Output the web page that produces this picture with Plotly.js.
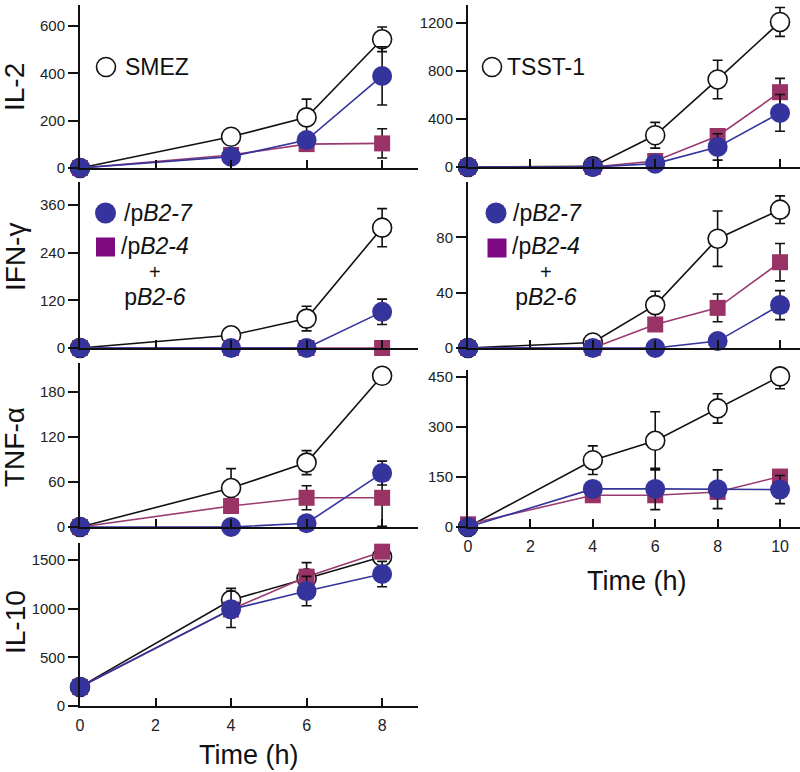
<!DOCTYPE html>
<html><head><meta charset="utf-8">
<script src="https://cdn.plot.ly/plotly-3.0.1.min.js"></script>
<style>html,body{margin:0;padding:0;background:#fff}</style>
</head><body><div id="chart" style="width:800px;height:772px"></div>
<script>
// ---- data ----
const timeSmez = [0, 4, 6, 8];
const timeTsst = [0, 4, 6, 8, 10];

const il2SmezCtrl = [0, 132, 214, 544];      const il2SmezCtrlErr = [0, 0, 77, 52];
const il2SmezB246 = [0, 55, 101, 104];       const il2SmezB246Err = [0, 0, 0, 62];
const il2SmezB27  = [0, 48, 118, 389];       const il2SmezB27Err  = [0, 0, 0, 123];

const il2TsstCtrl = [0, 5, 264, 728, 1206];  const il2TsstCtrlErr = [0, 0, 107, 160, 120];
const il2TsstB246 = [0, 0, 50, 258, 622];    const il2TsstB246Err = [0, 0, 0, 0, 115];
const il2TsstB27  = [0, 0, 28, 167, 450];    const il2TsstB27Err  = [0, 0, 0, 110, 153];

const ifnSmezCtrl = [0, 32, 74, 303];        const ifnSmezCtrlErr = [0, 0, 31, 48];
const ifnSmezB246 = [0, 0, 0, 0];            const ifnSmezB246Err = [0, 0, 0, 0];
const ifnSmezB27  = [0, 0, 0, 91];           const ifnSmezB27Err  = [0, 0, 0, 32];

const ifnTsstCtrl = [0, 4, 31, 79, 100];     const ifnTsstCtrlErr = [0, 0, 10, 20, 10];
const ifnTsstB246 = [0, 0, 17, 29, 62];      const ifnTsstB246Err = [0, 0, 0, 10, 13.5];
const ifnTsstB27  = [0, 0, 0, 5, 31];        const ifnTsstB27Err  = [0, 0, 0, 0, 10.5];

const tnfSmezCtrl = [0, 52, 86, 202];        const tnfSmezCtrlErr = [0, 26, 16, 0];
const tnfSmezB246 = [0, 28, 39, 39];         const tnfSmezB246Err = [0, 0, 16, 38];
const tnfSmezB27  = [0, 0, 5, 72];           const tnfSmezB27Err  = [0, 0, 0, 16];

const tnfTsstCtrl = [0, 200, 258, 355, 451]; const tnfTsstCtrlErr = [0, 43, 87, 44, 37];
const tnfTsstB246 = [8, 95, 95, 105, 151];   const tnfTsstB246Err = [0, 0, 0, 0, 0];
const tnfTsstB27  = [0, 114, 114, 113, 112]; const tnfTsstB27Err  = [0, 0, 62, 58, 42];

const il10SmezCtrl = [196, 1089, 1311, 1534]; const il10SmezCtrlErr = [0, 120, 0, 0];
const il10SmezB246 = [196, 992, 1329, 1586];  const il10SmezB246Err = [0, 0, 144, 0];
const il10SmezB27  = [196, 993, 1181, 1356];  const il10SmezB27Err  = [0, 186, 151, 130];

const ticksSmezX = [0, 2, 4, 6, 8];
const ticksTsstX = [0, 2, 4, 6, 8, 10];
const ticksIl2Smez = [0, 200, 400, 600];
const ticksIfnSmez = [0, 120, 240, 360];
const ticksTnfSmez = [0, 60, 120, 180];
const ticksIl10Smez = [0, 500, 1000, 1500];
const ticksIl2Tsst = [0, 400, 800, 1200];
const ticksIfnTsst = [0, 40, 80];
const ticksTnfTsst = [0, 150, 300, 450];

// ---- styles ----
const FONT = 'Liberation Sans, Arial, sans-serif';
const BLUE = '#34349c';
const MAG = '#993366';
const MAGLINE = '#9a3a70';
const LEGSQ = '#7d0a80';

function errY(arr) {
  return {type: 'data', array: arr, visible: true, color: '#111', thickness: 1.6, width: 5};
}
function ctrlTrace(x, y, e, ax) {
  return {x, y, error_y: errY(e), xaxis: 'x' + ax, yaxis: 'y' + ax, mode: 'lines+markers',
    type: 'scatter', cliponaxis: false, showlegend: false,
    line: {color: '#111', width: 1.6},
    marker: {symbol: 'circle', size: 19, color: '#fff', line: {color: '#111', width: 1.6}}};
}
function b246Trace(x, y, e, ax) {
  return {x, y, error_y: errY(e), xaxis: 'x' + ax, yaxis: 'y' + ax, mode: 'lines+markers',
    type: 'scatter', cliponaxis: false, showlegend: false,
    line: {color: MAGLINE, width: 1.6},
    marker: {symbol: 'square', size: 16, color: MAG}};
}
function b27Trace(x, y, e, ax) {
  return {x, y, error_y: errY(e), xaxis: 'x' + ax, yaxis: 'y' + ax, mode: 'lines+markers',
    type: 'scatter', cliponaxis: false, showlegend: false,
    line: {color: BLUE, width: 1.6},
    marker: {symbol: 'circle', size: 20, color: BLUE}};
}

const data = [
  ctrlTrace(timeSmez, il2SmezCtrl, il2SmezCtrlErr, ''),
  b246Trace(timeSmez, il2SmezB246, il2SmezB246Err, ''),
  b27Trace(timeSmez, il2SmezB27, il2SmezB27Err, ''),
  ctrlTrace(timeSmez, ifnSmezCtrl, ifnSmezCtrlErr, '2'),
  b246Trace(timeSmez, ifnSmezB246, ifnSmezB246Err, '2'),
  b27Trace(timeSmez, ifnSmezB27, ifnSmezB27Err, '2'),
  ctrlTrace(timeSmez, tnfSmezCtrl, tnfSmezCtrlErr, '3'),
  b246Trace(timeSmez, tnfSmezB246, tnfSmezB246Err, '3'),
  b27Trace(timeSmez, tnfSmezB27, tnfSmezB27Err, '3'),
  ctrlTrace(timeSmez, il10SmezCtrl, il10SmezCtrlErr, '4'),
  b246Trace(timeSmez, il10SmezB246, il10SmezB246Err, '4'),
  b27Trace(timeSmez, il10SmezB27, il10SmezB27Err, '4'),
  ctrlTrace(timeTsst, il2TsstCtrl, il2TsstCtrlErr, '5'),
  b246Trace(timeTsst, il2TsstB246, il2TsstB246Err, '5'),
  b27Trace(timeTsst, il2TsstB27, il2TsstB27Err, '5'),
  ctrlTrace(timeTsst, ifnTsstCtrl, ifnTsstCtrlErr, '6'),
  b246Trace(timeTsst, ifnTsstB246, ifnTsstB246Err, '6'),
  b27Trace(timeTsst, ifnTsstB27, ifnTsstB27Err, '6'),
  ctrlTrace(timeTsst, tnfTsstCtrl, tnfTsstCtrlErr, '7'),
  b246Trace(timeTsst, tnfTsstB246, tnfTsstB246Err, '7'),
  b27Trace(timeTsst, tnfTsstB27, tnfTsstB27Err, '7'),
];

const W = 800, H = 772;
const px = v => v / W;
const py = v => 1 - v / H;

function xax(domain, range, tickvals, showLabels, anchor) {
  return {domain, range, tickvals, ticks: 'inside', ticklen: 8, tickwidth: 2, tickcolor: '#111',
    showline: true, linewidth: 2, linecolor: '#111', showgrid: false, zeroline: false,
    showticklabels: showLabels, anchor, ticklabelstandoff: 4,
    tickfont: {family: FONT, size: 16, color: '#222'}};
}
function yax(top, bottom, range, tickvals, anchor) {
  return {domain: [py(bottom), py(top)], range, tickvals, ticks: 'outside', ticklen: 10, tickwidth: 2,
    tickcolor: '#111', showline: true, linewidth: 2, linecolor: '#111', showgrid: false,
    zeroline: false, anchor, tickfont: {family: FONT, size: 15, color: '#222'}};
}

const LX = [px(80), px(418)], RX = [px(468), px(800)];

const ann = [];
function txt(x, y, text, size, opts) {
  ann.push(Object.assign({xref: 'paper', yref: 'paper', x: px(x), y: py(y), text, showarrow: false,
    font: {family: FONT, size, color: '#111'}, xanchor: 'center', yanchor: 'middle'}, opts || {}));
}
txt(15, 87, 'IL-2', 28, {textangle: -90});
txt(15, 257, 'IFN-γ', 28, {textangle: -90});
txt(15, 447, 'TNF-α', 28, {textangle: -90});
txt(15, 622, 'IL-10', 28, {textangle: -90});
txt(249, 755, 'Time (h)', 27);
txt(637, 581, 'Time (h)', 27);
// legend texts
txt(123, 67, 'SMEZ', 23, {xanchor: 'left'});
txt(505, 67, 'TSST-1', 23, {xanchor: 'left'});
txt(122, 213, '/p<i>B2-7</i>', 23, {xanchor: 'left'});
txt(511, 213, '/p<i>B2-7</i>', 23, {xanchor: 'left'});
const comboLines = '<span style="font-size:23px">/p<i>B2-4</i></span><br>' +
  '<span style="font-size:20px">+</span><br>' +
  '<span style="font-size:23px">p<i>B2-6</i></span>';
txt(155, 271, comboLines, 19.5, {align: 'center'});
txt(546, 272, comboLines, 19.5, {align: 'center'});

const shapes = [];
function sym(type, cx, cy, r, fill, lineColor, lw) {
  shapes.push({type, xref: 'paper', yref: 'paper', xsizemode: 'pixel', ysizemode: 'pixel',
    xanchor: px(cx), yanchor: py(cy), x0: -r, x1: r, y0: -r, y1: r,
    fillcolor: fill, line: {color: lineColor, width: lw}});
}
sym('circle', 106, 67, 9.5, '#fff', '#111', 1.6);
sym('circle', 492, 67, 9.5, '#fff', '#111', 1.6);
sym('circle', 105.5, 213, 10.5, BLUE, BLUE, 0);
sym('rect', 105.5, 247, 9.5, LEGSQ, LEGSQ, 0);
sym('circle', 496, 213, 10.5, BLUE, BLUE, 0);
sym('rect', 497, 248, 9.5, LEGSQ, LEGSQ, 0);

const layout = {
  width: W, height: H, margin: {l: 0, r: 0, t: 0, b: 0}, showlegend: false,
  paper_bgcolor: '#fff', plot_bgcolor: 'rgba(0,0,0,0)',
  font: {family: FONT, color: '#111'},
  xaxis:  xax(LX, [0, 8.95], ticksSmezX, false, 'y'),
  yaxis:  yax(5, 168, [0, 689], ticksIl2Smez, 'x'),
  xaxis2: xax(LX, [0, 8.95], ticksSmezX, false, 'y2'),
  yaxis2: yax(182, 348, [0, 418], ticksIfnSmez, 'x2'),
  xaxis3: xax(LX, [0, 8.95], ticksSmezX, false, 'y3'),
  yaxis3: yax(363, 527, [0, 219], ticksTnfSmez, 'x3'),
  xaxis4: xax(LX, [0, 8.95], ticksSmezX, true, 'y4'),
  yaxis4: yax(543, 706, [0, 1675], ticksIl10Smez, 'x4'),
  xaxis5: xax(RX, [0, 10.64], ticksTsstX, false, 'y5'),
  yaxis5: yax(5, 167, [0, 1347], ticksIl2Tsst, 'x5'),
  xaxis6: xax(RX, [0, 10.64], ticksTsstX, false, 'y6'),
  yaxis6: yax(182, 348, [0, 120], ticksIfnTsst, 'x6'),
  xaxis7: xax(RX, [0, 10.64], ticksTsstX, true, 'y7'),
  yaxis7: yax(370, 527, [0, 470], ticksTnfTsst, 'x7'),
  annotations: ann,
  shapes: shapes
};

Plotly.newPlot('chart', data, layout, {displayModeBar: false, staticPlot: true});
</script>
</body></html>
